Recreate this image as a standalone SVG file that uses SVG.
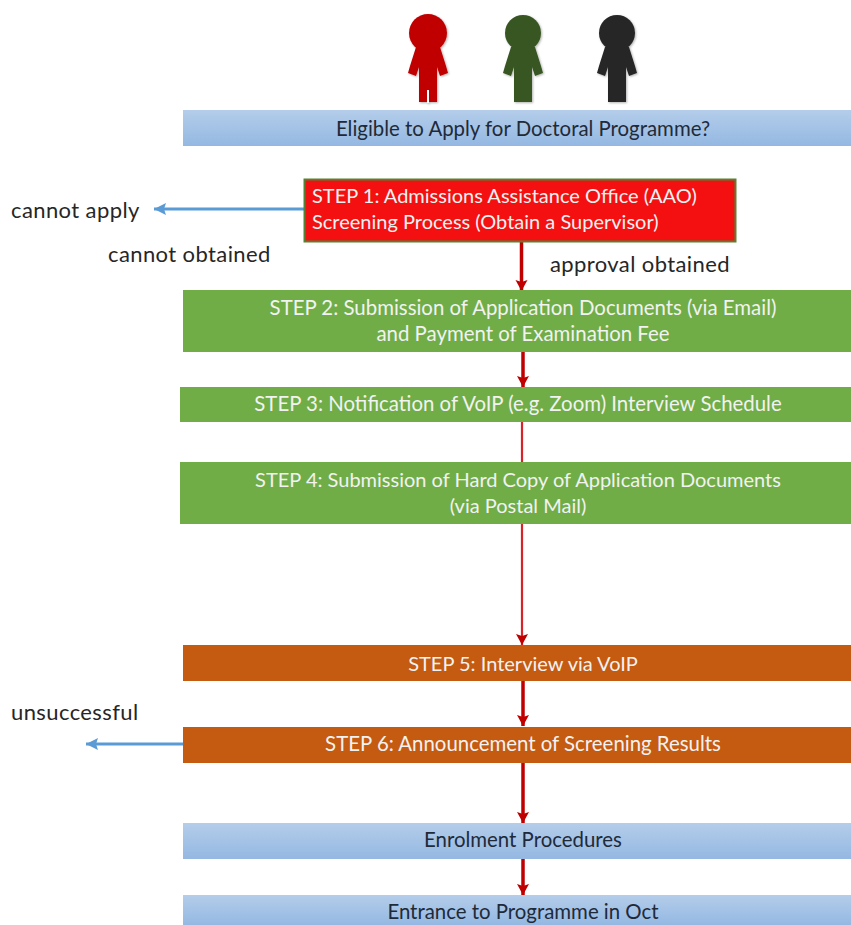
<svg xmlns="http://www.w3.org/2000/svg" width="851" height="925" viewBox="0 0 851 925">
<defs>
<linearGradient id="blue" x1="0" y1="0" x2="0" y2="1"><stop offset="0" stop-color="#b4cdea"/><stop offset="1" stop-color="#94b8e2"/></linearGradient>
<filter id="soft" x="-20%" y="-20%" width="140%" height="140%"><feDropShadow dx="1" dy="1" stdDeviation="1" flood-color="#000" flood-opacity="0.3"/></filter>
<marker id="red" markerUnits="userSpaceOnUse" markerWidth="14" markerHeight="14" refX="11" refY="7" orient="auto"><path d="M0 1L11 7L0 13L2 7Z" fill="#c00000"/></marker>
<marker id="bl" markerUnits="userSpaceOnUse" markerWidth="13" markerHeight="14" refX="12" refY="7" orient="auto"><path d="M0 1L12 7L0 13L2 7Z" fill="#5b9bd5"/></marker>
<path id="person" d="M-12 15L12 15L18 34L20 41L12 44L9 35L9 70L-9 70L-9 35L-12 44L-20 41L-18 34Z"/>
</defs>
<style>
text{font-family:"Lato","Open Sans","Liberation Sans",sans-serif;font-size:20.4px}
.w{fill:#f2f2f2;text-anchor:middle}.k{fill:#1f2a38;text-anchor:middle}
.s{font-size:20px}
.l{fill:#262626;font-size:22px;letter-spacing:.4px}
.g{fill:#70ad47}.o{fill:#c55a11}.b{fill:url(#blue)}
.r{stroke:#c00000;stroke-width:3.5;fill:none;marker-end:url(#red)}
.t{stroke:#d8232a;stroke-width:2.2;fill:none}
.a{stroke:#5b9bd5;stroke-width:3;fill:none;marker-end:url(#bl)}
</style>
<g id="connectors">
<path class="r" d="M521.5 242V291"/>
<path class="r" d="M523 352V387"/>
<path class="t" d="M522 422V462"/>
<path class="t" style="marker-end:url(#red)" d="M522 524V645"/>
<path class="r" d="M523 681V726"/>
<path class="r" d="M523 763V823"/>
<path class="r" d="M523 859V895"/>
<path class="a" d="M304 209H154"/>
<path class="a" d="M183 744H86"/>
</g>
<g id="person-red" fill="#c00000" filter="url(#soft)"><circle cx="428" cy="33" r="19"/><use href="#person" x="428" y="32"/><rect x="427" y="90" width="2" height="13" fill="#fff"/></g>
<g id="person-green" fill="#375623" filter="url(#soft)"><circle cx="523" cy="33" r="18"/><use href="#person" x="523" y="32"/></g>
<g id="person-black" fill="#262626" filter="url(#soft)"><circle cx="617" cy="33" r="18"/><use href="#person" x="617" y="32"/></g>
<g id="eligible"><rect class="b" x="183" y="110" width="668" height="36"/><text class="k" x="523" y="136">Eligible to Apply for Doctoral Programme?</text></g>
<g id="step1"><rect x="304.5" y="179.5" width="431" height="62" fill="#f41010" stroke="#548235" stroke-width="2"/><text class="s" fill="#f2f2f2" x="312" y="203">STEP 1: Admissions Assistance Office (AAO)</text><text class="s" fill="#f2f2f2" x="312" y="229">Screening Process (Obtain a Supervisor)</text></g>
<g id="step2"><rect class="g" x="183" y="290" width="668" height="62"/><text class="w" x="523" y="315">STEP 2: Submission of Application Documents (via Email)</text><text class="w" x="523" y="341">and Payment of Examination Fee</text></g>
<g id="step3"><rect class="g" x="180" y="387" width="671" height="35"/><text class="w" x="518" y="411">STEP 3: Notification of VoIP (e.g. Zoom) Interview Schedule</text></g>
<g id="step4"><rect class="g" x="180" y="462" width="671" height="62"/><text class="w s" x="518" y="487">STEP 4: Submission of Hard Copy of Application Documents</text><text class="w s" x="518" y="513">(via Postal Mail)</text></g>
<g id="step5"><rect class="o" x="183" y="645" width="668" height="36"/><text class="w s" x="523" y="671">STEP 5: Interview via VoIP</text></g>
<g id="step6"><rect class="o" x="183" y="727" width="668" height="36"/><text class="w" x="523" y="751">STEP 6: Announcement of Screening Results</text></g>
<g id="enrol"><rect class="b" x="183" y="823" width="668" height="36"/><text class="k" x="523" y="847">Enrolment Procedures</text></g>
<g id="entrance"><rect class="b" x="183" y="895" width="668" height="30"/><text class="k" x="523" y="919">Entrance to Programme in Oct</text></g>
<text class="l" x="11" y="218">cannot apply</text>
<text class="l" x="108" y="262">cannot obtained</text>
<text class="l" x="550" y="272">approval obtained</text>
<text class="l" x="11" y="720">unsuccessful</text>
</svg>
